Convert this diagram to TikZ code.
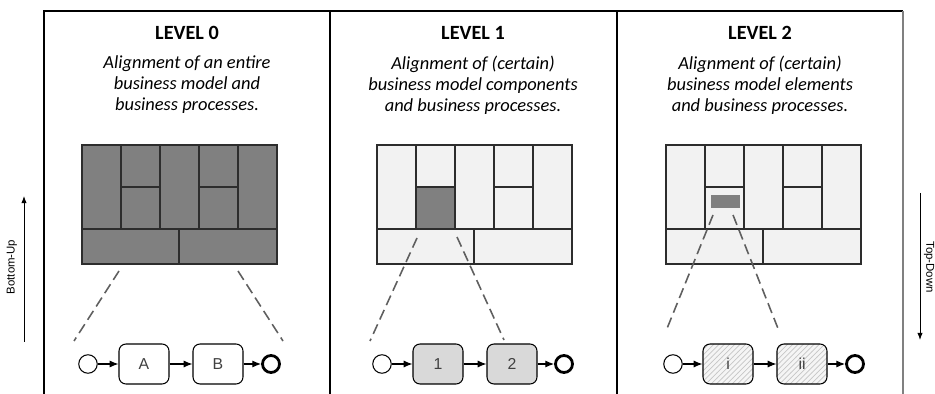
\documentclass[tikz,border=0pt]{standalone}
\usepackage{fontspec}
\usepackage{xcolor}
\setmainfont{Carlito}
\newfontfamily\arialfont{Liberation Sans}
\usetikzlibrary{arrows.meta,patterns}

\definecolor{bmdark}{RGB}{128,128,128}
\definecolor{bmlight}{RGB}{242,242,242}
\definecolor{taskfill}{RGB}{217,217,217}
\definecolor{gridline}{RGB}{45,45,45}
\definecolor{zoomline}{RGB}{95,95,95}

\begin{document}
\begin{tikzpicture}[x=0.02cm, y=-0.02cm,
  frame/.style = {line width=0.6pt},
  cell/.style = {draw=gridline, line width=0.6pt},
  zoom/.style = {draw=zoomline, line width=0.9pt, dash pattern=on 6pt off 3pt},
  title/.style = {font=\fontsize{11.5}{13}\selectfont\bfseries},
  descr/.style = {align=center, font=\fontsize{10.5}{12}\selectfont\itshape},
  side/.style = {font=\arialfont\fontsize{6.5}{8}\selectfont},
  startev/.style = {circle, draw, line width=0.6pt, fill=white,
    minimum size=0.37cm, inner sep=0pt},
  endev/.style = {circle, draw, line width=1.6pt, fill=white,
    minimum size=0.34cm, inner sep=0pt},
  task/.style = {rectangle, rounded corners=4pt, draw, line width=0.6pt,
    minimum width=1cm, minimum height=0.8cm, inner sep=0pt,
    font=\arialfont\fontsize{9}{10}\selectfont, text=black!75},
  taskgray/.style = {task, fill=taskfill},
  taskhatch/.style = {task, preaction={fill=gray!8},
    pattern=north east lines, pattern color=gray!45},
  flow/.style = {-{Latex[length=5pt,width=4pt]}, line width=0.6pt}]

  \useasboundingbox (0,0) rectangle (935,394);

  % panels
  \draw[frame] (44,394) -- (44,11) -- (903,11);
  \draw[frame] (330,11) -- (330,394);
  \draw[frame] (617,11) -- (617,394);
  \draw[frame, draw=gray] (903,11) -- (903,394);

  % headings
  \node[title] (t0) at (187,33) {LEVEL 0};
  \node[title] (t1) at (473,33) {LEVEL 1};
  \node[title] (t2) at (760,33) {LEVEL 2};
  \node[descr] (d0) at (187,85) {Alignment of an entire\\business model and\\business processes.};
  \node[descr] (d1) at (473,85) {Alignment of (certain)\\business model components\\and business processes.};
  \node[descr] (d2) at (760,85) {Alignment of (certain)\\business model elements\\and business processes.};

  % business model grids
  \foreach \xo/\cf in {82/bmdark, 377/bmlight, 666/bmlight} {
    \draw[cell, fill=\cf] (\xo,145) rectangle ++(195,119);
    \foreach \i in {1,...,4}
      \draw[cell] (\xo+39*\i,145) -- (\xo+39*\i,229);
    \draw[cell] (\xo,229) -- ++(195,0);
    \draw[cell] (\xo+39,187) -- ++(39,0);
    \draw[cell] (\xo+117,187) -- ++(39,0);
    \draw[cell] (\xo+97,229) -- (\xo+97,264);
  }
  \draw[cell, fill=bmdark] (416,187) rectangle (455,229);
  \fill[bmdark] (711,195) rectangle (740,208);

  % processes
  \node[startev] (s0) at (88,364) {};
  \node[task] (a0) at (144,364) {A};
  \node[task] (b0) at (218,364) {B};
  \node[endev] (e0) at (271,364) {};

  \node[startev] (s1) at (382,364) {};
  \node[taskgray] (a1) at (438,364) {1};
  \node[taskgray] (b1) at (512,364) {2};
  \node[endev] (e1) at (564,364) {};

  \node[startev] (s2) at (673,364) {};
  \node[taskhatch] (a2) at (728,364) {i};
  \node[taskhatch] (b2) at (802,364) {ii};
  \node[endev] (e2) at (855,364) {};

  \foreach \k in {0,1,2} {
    \draw[flow] (s\k) -- (a\k);
    \draw[flow] (a\k) -- (b\k);
    \draw[flow] (b\k) -- (e\k);
  }

  % zoom lines
  \coordinate (z0a) at (119,271); \coordinate (z0b) at (74,341);
  \coordinate (z0c) at (238,271); \coordinate (z0d) at (283,341);
  \coordinate (z1a) at (417,238); \coordinate (z1b) at (370,341);
  \coordinate (z1c) at (457,237); \coordinate (z1d) at (504,340);
  \coordinate (z2a) at (713,215); \coordinate (z2b) at (666,331);
  \coordinate (z2c) at (733,215); \coordinate (z2d) at (779,331);
  \foreach \k in {0,1,2} {
    \draw[zoom] (z\k a) -- (z\k b);
    \draw[zoom] (z\k c) -- (z\k d);
  }

  % direction arrows
  \coordinate (bu1) at (24,342); \coordinate (bu2) at (24,196);
  \draw[-{Latex[length=4pt,width=3pt]}, line width=0.5pt] (bu1) -- (bu2);
  \node[side, rotate=90] (bu) at (12,267) {Bottom-Up};
  \coordinate (td1) at (920,193); \coordinate (td2) at (920,340);
  \draw[-{Latex[length=4pt,width=3pt]}, line width=0.5pt] (td1) -- (td2);
  \node[side, rotate=-90, inner sep=1pt] (td) at (929,267) {Top-Down};
\end{tikzpicture}
\end{document}
